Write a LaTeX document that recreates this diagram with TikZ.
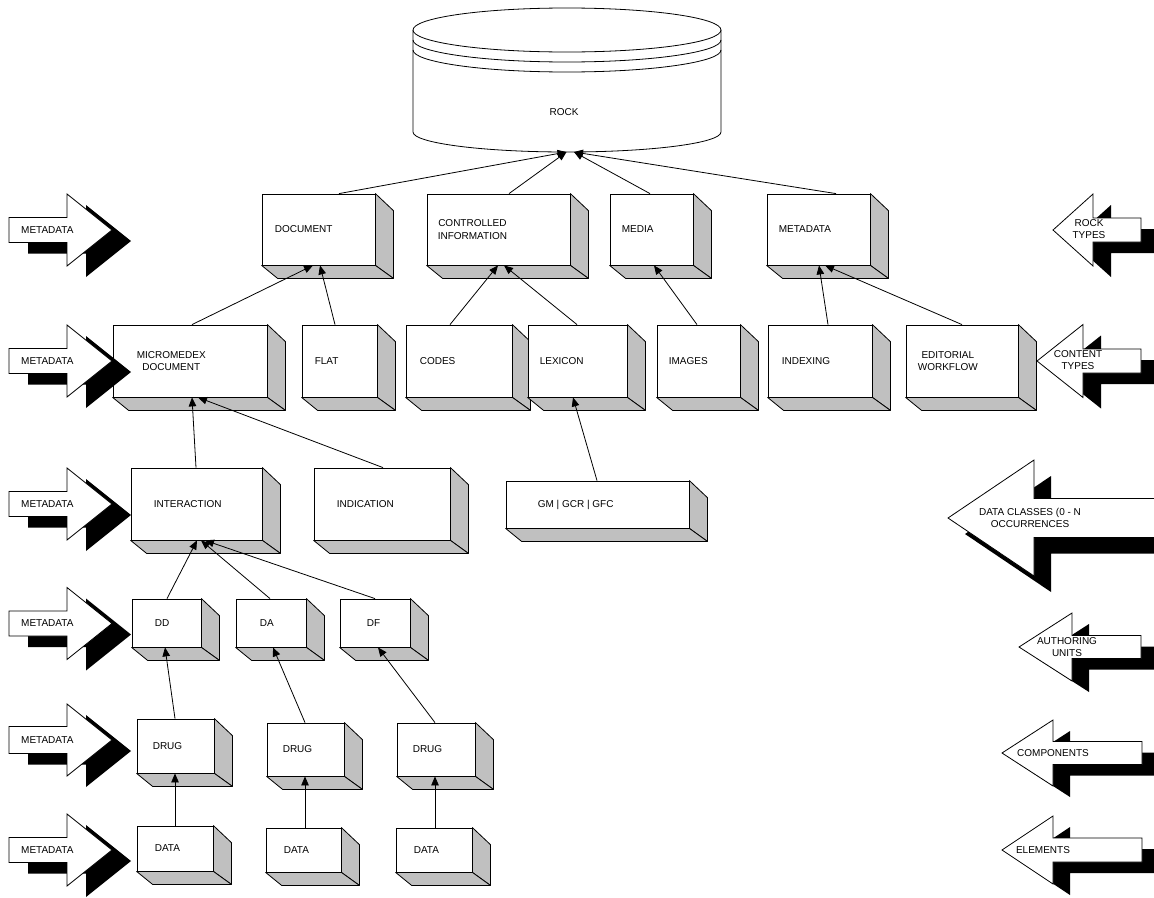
\documentclass[tikz,border=0pt]{standalone}
\usepackage{fontspec}
\setmainfont{Liberation Sans}
\usetikzlibrary{arrows.meta}

\definecolor{sidegray}{HTML}{C0C0C0}

\tikzset{
  front/.style={draw, fill=white, line width=0.8pt, inner sep=0pt},
  face/.style={draw, fill=sidegray, line width=0.8pt, line join=round},
  lbl/.style={inner sep=0pt, align=center, font=\fontsize{10}{12.5}\selectfont, anchor=west},
  albl/.style={inner sep=0pt, align=center, font=\fontsize{10}{12.5}\selectfont},
  conn/.style={line width=0.8pt, -{Triangle[length=9pt,width=7.5pt]}},
  blk/.style={draw=black, fill=white, line width=0.8pt, line join=miter},
}

% 3-D box: name, centre x, centre y, width, height, text indent, text
\newcommand{\threedbox}[7]{%
  \node[front, minimum width=#4pt, minimum height=#5pt] (#1) at (#2,#3) {};
  \path[face] (#1.north east) -- ++(18,17) -- ([shift={(18,13)}]#1.south east) -- (#1.south east) -- cycle;
  \path[face] (#1.south west) -- ++(16,13) -- ([shift={(18,13)}]#1.south east) -- (#1.south east) -- cycle;
  \node[lbl] (#1-t) at ([xshift=#6pt]#1.west) {#7};
}

% outline of a block arrow: shaft end x, head base x, tip x, centre y, shaft half, head half
\newcommand{\arrowoutline}[6]{%
  (#1,#4-#5) -- (#2,#4-#5) -- (#2,#4-#6) -- (#3,#4) -- (#2,#4+#6) -- (#2,#4+#5) -- (#1,#4+#5) -- cycle}

% block arrow with a black drop shadow offset by (dx,dy)
\newcommand{\blockarrow}[8]{%
  \fill[black, shift={(#7,#8)}] \arrowoutline{#1}{#2}{#3}{#4}{#5}{#6};
  \path[blk] \arrowoutline{#1}{#2}{#3}{#4}{#5}{#6};
}

\begin{document}
\begin{tikzpicture}[x=1pt, y=-1pt]
\fill[white] (0,0) rectangle (1154,897);
\useasboundingbox (0,0) rectangle (1154,897);

% repository cylinder
\path[draw, fill=white, line width=0.8pt] (413,30) -- (413,132)
  .. controls (413,143) and (482,152) .. (567,152)
  .. controls (652,152) and (721,143) .. (721,132) -- (721,30);
\draw[fill=white, line width=0.8pt] (567,30) ellipse [x radius=154, y radius=22];
\draw[line width=0.8pt] (413,40) .. controls (413,52) and (482,62) .. (567,62)
  .. controls (652,62) and (721,52) .. (721,40);
\draw[line width=0.8pt] (413,50) .. controls (413,62) and (482,72) .. (567,72)
  .. controls (652,72) and (721,62) .. (721,50);
\node[albl] (rock) at (564,112) {ROCK};
\coordinate (rockbase) at (570,152);

% rock types
\threedbox{doc}{318.5}{229.5}{113}{71}{13}{DOCUMENT}
\threedbox{ctrl}{498.5}{229.5}{143}{71}{11}{CONTROLLED\\INFORMATION}
\threedbox{media}{651.5}{229.5}{83}{71}{12}{MEDIA}
\threedbox{meta}{818.5}{229.5}{103}{71}{12}{METADATA}

% content types
\threedbox{micro}{190}{361}{154}{72}{24}{MICROMEDEX\\DOCUMENT}
\threedbox{flat}{339.5}{361}{75}{72}{13}{FLAT}
\threedbox{codes}{459}{361}{106}{72}{14}{CODES}
\threedbox{lexicon}{577.5}{361}{99}{72}{12}{LEXICON}
\threedbox{images}{698.5}{361}{83}{72}{12}{IMAGES}
\threedbox{indexing}{820}{361}{104}{72}{14}{INDEXING}
\threedbox{editorial}{962}{361}{112}{72}{12}{EDITORIAL\\WORKFLOW}

% data classes
\threedbox{interaction}{196.5}{504}{131}{72}{23}{INTERACTION}
\threedbox{indication}{382}{504}{136}{72}{23}{INDICATION}
\threedbox{gm}{597.5}{504.5}{183}{47}{32}{GM | GCR | GFC}

% authoring units
\threedbox{dd}{166.5}{623}{69}{48}{23}{DD}
\threedbox{da}{271}{623}{70}{48}{24}{DA}
\threedbox{df}{375}{623}{70}{48}{27}{DF}

% components
\threedbox{drugA}{175.5}{746}{77}{54}{16}{DRUG}
\threedbox{drugB}{305.5}{749.5}{77}{53}{16}{DRUG}
\threedbox{drugC}{436}{749.5}{78}{53}{16}{DRUG}

% elements
\threedbox{dataA}{175}{848.5}{76}{45}{18}{DATA}
\threedbox{dataB}{303.5}{850}{75}{44}{18}{DATA}
\threedbox{dataC}{434}{850}{76}{44}{18}{DATA}

% connectors
\draw[conn] ([xshift=20.5pt]doc.north) -- ([xshift=-3.5pt]rockbase);
\draw[conn] ([xshift=10.5pt]ctrl.north) -- ([xshift=-3.5pt]rockbase);
\draw[conn] ([xshift=-1.5pt]media.north) -- ([xshift=4pt]rockbase);
\draw[conn] ([xshift=17.5pt]meta.north) -- ([xshift=4pt]rockbase);

\draw[conn] ([xshift=2pt]micro.north) -- ([xshift=-5.5pt]doc.south);
\draw[conn] ([xshift=-4.5pt]flat.north) -- ([xshift=1.5pt]doc.south);
\draw[conn] ([xshift=-9pt]codes.north) -- ([xshift=-0.5pt]ctrl.south);
\draw[conn] ([xshift=-0.5pt]lexicon.north) -- ([xshift=5.5pt]ctrl.south);
\draw[conn] ([xshift=-1.5pt]images.north) -- ([xshift=2.5pt]media.south);
\draw[conn] ([xshift=8pt]indexing.north) -- ([xshift=0.5pt]meta.south);
\draw[conn] (editorial.north) -- ([xshift=6.5pt]meta.south);

\draw[conn] ([xshift=-0.5pt]interaction.north) -- ([xshift=2pt]micro.south);
\draw[conn] ([xshift=1pt]indication.north) -- ([xshift=8pt]micro.south);
\draw[conn] ([xshift=-0.5pt]gm.north) -- ([xshift=-4.5pt]lexicon.south);

\draw[conn] ([xshift=0.5pt]dd.north) -- ([xshift=0.5pt]interaction.south);
\draw[conn] ([xshift=-1pt]da.north) -- ([xshift=4.5pt]interaction.south);
\draw[conn] (df.north) -- ([xshift=8.5pt]interaction.south);

\draw[conn] ([xshift=-0.5pt]drugA.north) -- ([xshift=-1.5pt]dd.south);
\draw[conn] ([xshift=-0.5pt]drugB.north) -- ([xshift=2pt]da.south);
\draw[conn] ([xshift=-1pt]drugC.north) -- ([xshift=3pt]df.south);

\draw[conn] (dataA.north) -- ([xshift=-0.5pt]drugA.south);
\draw[conn] ([xshift=1.5pt]dataB.north) -- ([xshift=-0.5pt]drugB.south);
\draw[conn] ([xshift=1pt]dataC.north) -- ([xshift=-1pt]drugC.south);

% metadata arrows on the left
\blockarrow{9}{67}{112}{230}{12.5}{36}{19}{11}
\node[lbl] (mdA) at (21,230) {METADATA};
\blockarrow{9}{67}{112}{361}{12.5}{36}{19}{11}
\node[lbl] (mdB) at (21,361) {METADATA};
\blockarrow{9}{67}{112}{504}{12.5}{36}{19}{11}
\node[lbl] (mdC) at (21,504) {METADATA};
\blockarrow{9}{67}{112}{623.5}{12.5}{36}{19}{11}
\node[lbl] (mdD) at (21,623.5) {METADATA};
\blockarrow{9}{67}{112}{740}{13.5}{36}{19}{11}
\node[lbl] (mdE) at (21,740) {METADATA};
\blockarrow{9}{67}{112}{850}{12.5}{36}{19}{11}
\node[lbl] (mdF) at (21,850) {METADATA};

% level arrows on the right
\blockarrow{1141}{1093}{1053}{230}{12}{36}{18}{11}
\node[albl] (rocktypes) at (1089,229) {ROCK\\TYPES};
\blockarrow{1141}{1083}{1037}{361}{12}{36.5}{18}{11}
\node[albl] (contenttypes) at (1078,360) {CONTENT\\TYPES};
\blockarrow{1175}{1034}{948}{518}{19.5}{58}{17}{16}
\node[albl] (dataclasses) at (1030,518) {DATA CLASSES (0 - N\\OCCURRENCES};
\blockarrow{1141}{1072}{1019}{647}{11.5}{34}{17}{11}
\node[albl] (authoring) at (1067,647) {AUTHORING\\UNITS};
\blockarrow{1142}{1053}{1002}{753}{11.5}{33}{17}{11}
\node[albl] (components) at (1053,753) {COMPONENTS};
\blockarrow{1142}{1053}{1002}{850}{12}{34}{17}{11}
\node[albl] (elements) at (1043,850) {ELEMENTS};
\end{tikzpicture}
\end{document}
